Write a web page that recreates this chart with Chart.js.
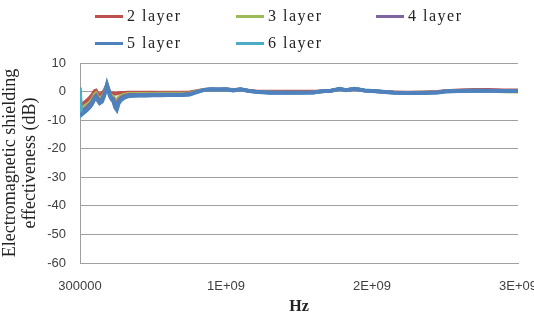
<!DOCTYPE html>
<html>
<head>
<meta charset="utf-8">
<script src="https://cdn.jsdelivr.net/npm/chart.js@4.4.1/dist/chart.umd.min.js"></script>
<style>
    body { margin: 0; background: #fff; }
    #wrap { position: relative; width: 534px; height: 316px; overflow: hidden; }
    #shieldChart { position: absolute; left: 0; top: 0; }
    #legend { position: absolute; left: 0; top: 0; width: 534px; font-family: 'Liberation Serif', serif; font-size: 16px; color: #222; }
    .leg-item { position: absolute; display: flex; align-items: center; height: 20px; letter-spacing: 1.5px; }
    .leg-line { width: 28px; height: 3px; margin-right: 4px; }
</style>
</head>
<body>
<div id="wrap">
    <canvas id="shieldChart" width="534" height="316"></canvas>
    <div id="legend"></div>
</div>
<script>
// Frequency points (Hz)
const freqs = [
    3e5, 1e7, 2e7, 3.5e7, 5e7, 6.5e7, 8e7, 9e7, 1.0e8, 1.1e8,
    1.2e8, 1.35e8, 1.5e8, 1.65e8, 1.78e8, 1.85e8, 1.95e8, 2.05e8, 2.15e8, 2.3e8,
    2.42e8, 2.52e8, 2.65e8, 2.8e8, 3.0e8, 3.3e8, 3.6e8, 4.0e8, 4.5e8, 5.0e8,
    5.5e8, 6.0e8, 6.5e8, 7.0e8, 7.5e8, 8.0e8, 8.5e8, 9.0e8, 9.5e8, 1.0e9,
    1.05e9, 1.1e9, 1.15e9, 1.2e9, 1.3e9, 1.4e9, 1.5e9, 1.6e9, 1.65e9, 1.72e9,
    1.78e9, 1.82e9, 1.88e9, 1.95e9, 2.05e9, 2.15e9, 2.25e9, 2.35e9, 2.45e9, 2.5e9,
    2.6e9, 2.7e9, 2.8e9, 2.9e9, 3.0e9
];

// Shielding effectiveness (dB) per layer count
const layer2 = [
    -5.0, -4.6, -4.2, -3.6, -3.0, -2.2, -1.4, -0.6, 0.2, 0.4,
    -0.6, -1.0, -0.6, 0.2, 1.6, 2.4, 1.0, -0.2, -0.5, -0.6,
    -0.8, -0.7, -0.5, -0.4, -0.4, -0.3, -0.3, -0.3, -0.3, -0.3,
    -0.3, -0.3, -0.3, -0.3, -0.2, 0.2, 0.6, 0.8, 0.7, 0.8,
    0.6, 0.7, 0.4, 0.1, 0.0, 0.0, 0.0, 0.0, 0.0, 0.4,
    0.9, 0.5, 1.0, 0.4, 0.0, -0.2, -0.3, -0.2, -0.1, 0.2,
    0.5, 0.6, 0.6, 0.5, 0.5
];
const layer3 = [
    -6.7, -6.2, -5.8, -5.2, -4.6, -3.8, -3.0, -2.0, -1.0, -0.6,
    -1.6, -2.4, -1.9, -0.6, 1.2, 2.2, 0.7, -0.8, -1.4, -1.8,
    -2.8, -3.2, -2.0, -1.5, -1.1, -0.8, -0.8, -0.8, -0.8, -0.8,
    -0.7, -0.7, -0.7, -0.7, -0.6, 0.0, 0.6, 0.8, 0.7, 0.8,
    0.5, 0.8, 0.3, 0.0, -0.2, -0.3, -0.3, -0.2, 0.0, 0.3,
    0.9, 0.5, 1.0, 0.4, 0.0, -0.3, -0.4, -0.3, -0.2, 0.1,
    0.3, 0.4, 0.3, 0.0, -0.1
];
const layer4 = [
    -7.6, -7.1, -6.7, -6.1, -5.4, -4.6, -3.8, -2.8, -1.8, -1.3,
    -2.2, -3.2, -2.7, -1.0, 1.0, 2.2, 0.6, -1.2, -2.0, -2.6,
    -4.2, -4.8, -3.0, -2.2, -1.6, -1.2, -1.1, -1.1, -1.1, -1.0,
    -1.0, -1.0, -1.0, -1.0, -0.8, -0.1, 0.6, 0.8, 0.7, 0.8,
    0.5, 0.8, 0.3, 0.0, -0.3, -0.3, -0.3, -0.3, 0.0, 0.3,
    0.9, 0.5, 1.0, 0.4, 0.0, -0.3, -0.4, -0.4, -0.2, 0.1,
    0.3, 0.4, 0.3, 0.2, 0.2
];
const layer5 = [
    -8.5, -8.0, -7.6, -7.0, -6.3, -5.5, -4.5, -3.5, -2.5, -2.0,
    -2.8, -4.0, -3.5, -1.5, 0.8, 2.3, 0.5, -1.5, -2.5, -3.5,
    -5.5, -6.3, -4.0, -3.0, -2.2, -1.6, -1.5, -1.4, -1.4, -1.3,
    -1.3, -1.2, -1.2, -1.2, -1.0, -0.2, 0.6, 0.8, 0.7, 0.8,
    0.4, 0.8, 0.3, -0.1, -0.4, -0.4, -0.4, -0.3, 0.1, 0.3,
    1.0, 0.5, 1.0, 0.4, 0.0, -0.4, -0.5, -0.5, -0.3, 0.0,
    0.2, 0.3, 0.3, 0.2, 0.2
];
const layer6 = [
    1.4, -8.2, -7.7, -7.1, -6.4, -5.6, -4.6, -3.6, -2.6, -2.1,
    -2.9, -4.0, -3.5, -1.6, 0.8, 2.2, 0.5, -1.5, -2.5, -3.5,
    -5.4, -6.2, -4.0, -3.0, -2.2, -1.6, -1.5, -1.4, -1.4, -1.3,
    -1.3, -1.2, -1.2, -1.2, -1.0, -0.2, 0.6, 0.8, 0.7, 0.8,
    0.4, 0.8, 0.3, -0.1, -0.4, -0.4, -0.4, -0.3, 0.1, 0.3,
    1.0, 0.5, 1.0, 0.4, 0.0, -0.4, -0.5, -0.5, -0.3, 0.0,
    0.2, 0.3, 0.3, 0.2, 0.2
];

const seriesNames = ['2 layer', '3 layer', '4 layer', '5 layer', '6 layer'];
const seriesColors = ['#C0504D', '#9BBB59', '#8064A2', '#4F81BD', '#4BACC6'];

// Axis ticks
const xTickValues = [3e5, 1e9, 2e9, 3e9];
const xTickLabels = ['300000', '1E+09', '2E+09', '3E+09'];
const yMin = -60, yMax = 10, yStep = 10;

document.addEventListener('DOMContentLoaded', function() {
    buildLegend();
    initChart();
});

function buildLegend() {
    // legend positions: 3 items on first row, 2 on second
    const spots = [[95, 6], [236, 6], [376, 6], [95, 33], [236, 33]];
    const legend = document.getElementById('legend');
    seriesNames.forEach((name, i) => {
        const item = document.createElement('div');
        item.className = 'leg-item';
        item.style.left = spots[i][0] + 'px';
        item.style.top = spots[i][1] + 'px';
        item.innerHTML = `<span class="leg-line" style="background:${seriesColors[i]}"></span><span>${name}</span>`;
        legend.appendChild(item);
    });
}

function initChart() {
    const ctx = document.getElementById('shieldChart').getContext('2d');
    const layers = [layer2, layer3, layer4, layer5, layer6];
    // 5 layer drawn on top, as in the reference
    const drawOrder = [4, 3, 2, 0, 1];

    const datasets = layers.map((vals, i) => ({
        label: seriesNames[i],
        data: freqs.map((f, j) => ({ x: f, y: vals[j] })),
        borderColor: seriesColors[i],
        backgroundColor: seriesColors[i],
        borderWidth: i === 3 ? 4 : 3.5,
        pointRadius: 0,
        tension: 0,
        order: drawOrder[i]
    }));

    new Chart(ctx, {
        type: 'line',
        data: { datasets: datasets },
        options: {
            responsive: false,
            animation: false,
            layout: { padding: { top: 63, right: 0, left: 0, bottom: 0 } },
            plugins: {
                legend: { display: false },
                tooltip: { enabled: false }
            },
            scales: {
                x: {
                    type: 'linear',
                    min: xTickValues[0],
                    max: xTickValues[xTickValues.length - 1],
                    afterBuildTicks: scale => {
                        scale.ticks = xTickValues.map(v => ({ value: v }));
                    },
                    afterFit: scale => {
                        // fixed box so the plot area lands where the reference has it
                        scale.height = 53;
                        scale.paddingLeft = 0;
                        scale.paddingRight = 16;
                    },
                    grid: { display: false, drawTicks: false },
                    border: { display: true, color: '#a0a0a0', width: 1 },
                    ticks: {
                        autoSkip: false,
                        maxRotation: 0,
                        padding: 16,
                        color: '#404040',
                        font: { family: 'Liberation Sans', size: 13 },
                        callback: value => {
                            const k = xTickValues.indexOf(value);
                            return k >= 0 ? xTickLabels[k] : '';
                        }
                    },
                    title: {
                        display: true,
                        text: 'Hz',
                        color: '#222',
                        padding: { top: 4, bottom: 0 },
                        font: { family: 'Liberation Serif', size: 16, weight: 'bold' }
                    }
                },
                y: {
                    min: yMin,
                    max: yMax,
                    afterFit: scale => { scale.width = 80; },
                    grid: { color: '#a0a0a0', lineWidth: 1, drawTicks: false },
                    border: { display: true, color: '#a0a0a0', width: 1 },
                    ticks: {
                        stepSize: yStep,
                        padding: 14,
                        color: '#404040',
                        font: { family: 'Liberation Sans', size: 13 }
                    },
                    title: {
                        display: true,
                        text: ['Electromagnetic shielding', 'effectiveness (dB)'],
                        color: '#222',
                        padding: { top: 0, bottom: 4 },
                        font: { family: 'Liberation Serif', size: 18, lineHeight: 1.11 }
                    }
                }
            }
        }
    });
}
</script>
</body>
</html>
